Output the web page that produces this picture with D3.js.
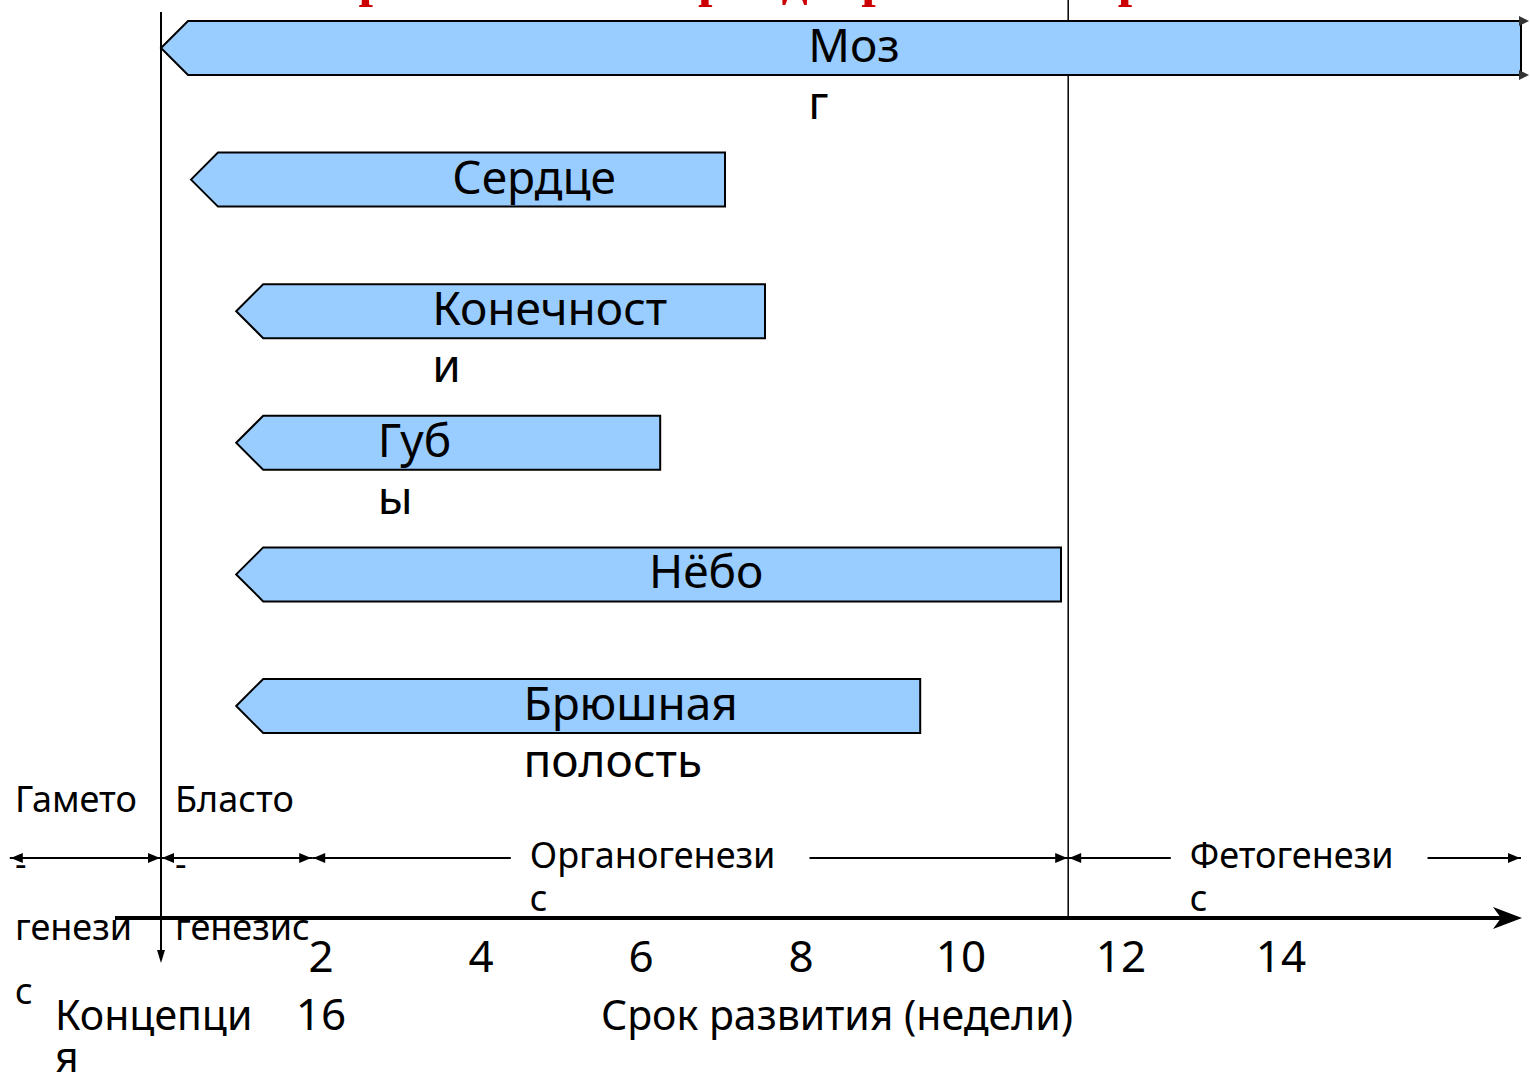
<!DOCTYPE html>
<html>
<head>
<meta charset="utf-8">
<script src="https://cdn.jsdelivr.net/npm/d3@7"></script>
<style>
  html, body { margin: 0; padding: 0; background: #ffffff; overflow: hidden; }
  svg { display: block; }
</style>
</head>
<body>
<svg id="chart" width="1530" height="1083"></svg>
<script>
// ---- Data: sensitive periods of organs, in weeks from conception ----
const organs = ["Мозг", "Сердце", "Конечности", "Губы", "Нёбо", "Брюшная полость"];
const organStart = [0, 0.375, 0.94, 0.94, 0.94, 0.94];
const organEnd = [17, 7.05, 7.55, 6.24, 11.25, 9.49];
// labels as they wrap inside their text boxes
const organLabelLines = [["Моз", "г"], ["Сердце"], ["Конечност", "и"], ["Губ", "ы"], ["Нёбо"], ["Брюшная", "полость"]];

// ---- Developmental periods ----
const periods = ["Гаметогенезис", "Бластогенезис", "Органогенезис", "Фетогенезис"];
const periodStart = [-1.89, 0, 1.89, 11.34];
const periodEnd = [0, 1.89, 11.34, 17];
const periodLabelLines = [["Гамето", "-", "генези", "с"], ["Бласто", "-", "генезис"], ["Органогенези", "с"], ["Фетогенези", "с"]];

// ---- Axis ----
const tickValues = [2, 4, 6, 8, 10, 12, 14, 16];
const tickLabels = ["2", "4", "6", "8", "10", "12", "14", "16"];
const axisTitle = "Срок развития (недели)";
const conceptionLines = ["Концепци", "я"];
const titleText = "Критические периоды развития органов";

// ---- Layout ----
const FONT = "'Noto Sans', 'DejaVu Sans', sans-serif";
const svg = d3.select("#chart");

const x = d3.scaleLinear().domain([0, 17]).range([161, 1521]);
const y = d3.scalePoint().domain(organs).range([48, 706]);
const barH = 54, tipLen = 27;

// where the organ captions start (in weeks along the same scale)
const organLabelWeek = [8.09, 3.64, 3.39, 2.71, 6.1, 4.53];
// where the period captions start
const periodLabelWeek = [-1.825, 0.175, 4.61, 12.86];

const axisY = 918, periodY = 858;

// title (mostly above the visible area)
svg.append("text")
  .attr("x", 800).attr("y", -4)
  .attr("text-anchor", "middle")
  .attr("font-family", "'Liberation Serif', 'Times New Roman', serif")
  .attr("font-weight", "bold")
  .attr("font-size", 52)
  .attr("fill", "#cc0000")
  .text(titleText);

// vertical boundary at the end of organogenesis
svg.append("line")
  .attr("x1", x(periodEnd[2])).attr("x2", x(periodEnd[2]))
  .attr("y1", 0).attr("y2", axisY)
  .attr("stroke", "#000").attr("stroke-width", 1.5);

// conception line with a downward arrow
const cx = x(periodStart[1]);
svg.append("line")
  .attr("x1", cx).attr("x2", cx)
  .attr("y1", 12).attr("y2", 960)
  .attr("stroke", "#000").attr("stroke-width", 2);
svg.append("path")
  .attr("d", `M${cx - 4},${950} L${cx},${963} L${cx + 4},${950} Z`)
  .attr("fill", "#000");

// organ arrows (pointing back toward conception)
const rows = organs.map((name, i) => ({
  name, start: organStart[i], end: organEnd[i],
  lines: organLabelLines[i], labelWeek: organLabelWeek[i]
}));

const arrowPath = d => {
  const x0 = x(d.start), x1 = x(d.end), yc = y(d.name);
  const top = yc - barH / 2, bot = yc + barH / 2;
  return `M${x0},${yc} L${x0 + tipLen},${top} L${x1},${top} L${x1},${bot} L${x0 + tipLen},${bot} Z`;
};

svg.append("g").selectAll("path")
  .data(rows).join("path")
  .attr("d", arrowPath)
  .attr("fill", "#99ccff")
  .attr("stroke", "#000")
  .attr("stroke-width", 2)
  .attr("stroke-linejoin", "miter");

// the brain bar runs on past the frame: small heads on its right corners
rows.filter(d => d.end >= 17).forEach(d => {
  const x1 = x(d.end), yc = y(d.name);
  [yc - barH / 2, yc + barH / 2].forEach(yy => {
    svg.append("path")
      .attr("d", `M${x1 - 2},${yy - 5} L${x1 + 8},${yy} L${x1 - 2},${yy + 5} Z`)
      .attr("fill", "#333");
  });
});

// organ captions
const organLabels = svg.append("g").selectAll("text")
  .data(rows).join("text")
  .attr("font-family", FONT)
  .attr("font-size", 46)
  .attr("fill", "#000")
  .attr("x", d => x(d.labelWeek))
  .attr("y", d => y(d.name) + 14);
organLabels.each(function (d) {
  const t = d3.select(this);
  d.lines.forEach((ln, k) => {
    t.append("tspan")
      .attr("x", x(d.labelWeek))
      .attr("dy", k === 0 ? 0 : 57)
      .text(ln);
  });
});

// period arrows
const head = (g, px, dir) => {
  g.append("path")
    .attr("d", `M${px},${periodY} L${px - dir * 12},${periodY - 5} L${px - dir * 12},${periodY + 5} Z`)
    .attr("fill", "#000");
};

periods.forEach((p, i) => {
  const g = svg.append("g");
  const xs = x(periodStart[i]), xe = x(periodEnd[i]);
  const lx = x(periodLabelWeek[i]);
  const inGap = i >= 2;

  const label = g.append("text")
    .attr("font-family", FONT)
    .attr("font-size", 36)
    .attr("fill", "#000")
    .attr("x", lx)
    .attr("y", inGap ? 868 : 812);
  periodLabelLines[i].forEach((ln, k) => {
    label.append("tspan")
      .attr("x", lx)
      .attr("dy", k === 0 ? 0 : (inGap ? 43 : 64))
      .text(ln);
  });

  if (inGap) {
    const tw = label.select("tspan").node().getComputedTextLength();
    const gapL = lx - 19, gapR = lx + tw + 34;
    g.append("line").attr("x1", xs).attr("x2", gapL)
      .attr("y1", periodY).attr("y2", periodY)
      .attr("stroke", "#000").attr("stroke-width", 2);
    g.append("line").attr("x1", gapR).attr("x2", xe)
      .attr("y1", periodY).attr("y2", periodY)
      .attr("stroke", "#000").attr("stroke-width", 2);
  } else {
    g.append("line").attr("x1", xs).attr("x2", xe)
      .attr("y1", periodY).attr("y2", periodY)
      .attr("stroke", "#000").attr("stroke-width", 2);
  }
  head(g, xs + 1, -1);
  head(g, xe - 1, 1);
});

// time axis with arrow
const ax0 = x(-0.575), ax1 = x(17);
svg.append("line")
  .attr("x1", ax0).attr("x2", ax1 - 8)
  .attr("y1", axisY).attr("y2", axisY)
  .attr("stroke", "#000").attr("stroke-width", 4);
svg.append("path")
  .attr("d", `M${ax1 + 1},${axisY} L${ax1 - 28},${axisY - 11} L${ax1 - 20},${axisY} L${ax1 - 28},${axisY + 11} Z`)
  .attr("fill", "#000");

// tick labels, flowing like a text box: the last one wraps to a second line
const wrapAt = x(15);
svg.append("g").selectAll("text")
  .data(tickValues).join("text")
  .attr("font-family", FONT)
  .attr("font-size", 44)
  .attr("fill", "#000")
  .attr("text-anchor", "middle")
  .attr("x", v => x(v) > wrapAt ? x(tickValues[0]) : x(v))
  .attr("y", v => x(v) > wrapAt ? 1030 : 972)
  .text((v, i) => tickLabels[i]);

// axis title
svg.append("text")
  .attr("font-family", FONT)
  .attr("font-size", 41)
  .attr("fill", "#000")
  .attr("x", x(8.45))
  .attr("text-anchor", "middle")
  .attr("y", 1030)
  .text(axisTitle);

// conception caption
const conc = svg.append("text")
  .attr("font-family", FONT)
  .attr("font-size", 41)
  .attr("fill", "#000")
  .attr("y", 1030);
conceptionLines.forEach((ln, k) => {
  conc.append("tspan").attr("x", x(-1.325)).attr("dy", k === 0 ? 0 : 42).text(ln);
});
</script>
</body>
</html>
